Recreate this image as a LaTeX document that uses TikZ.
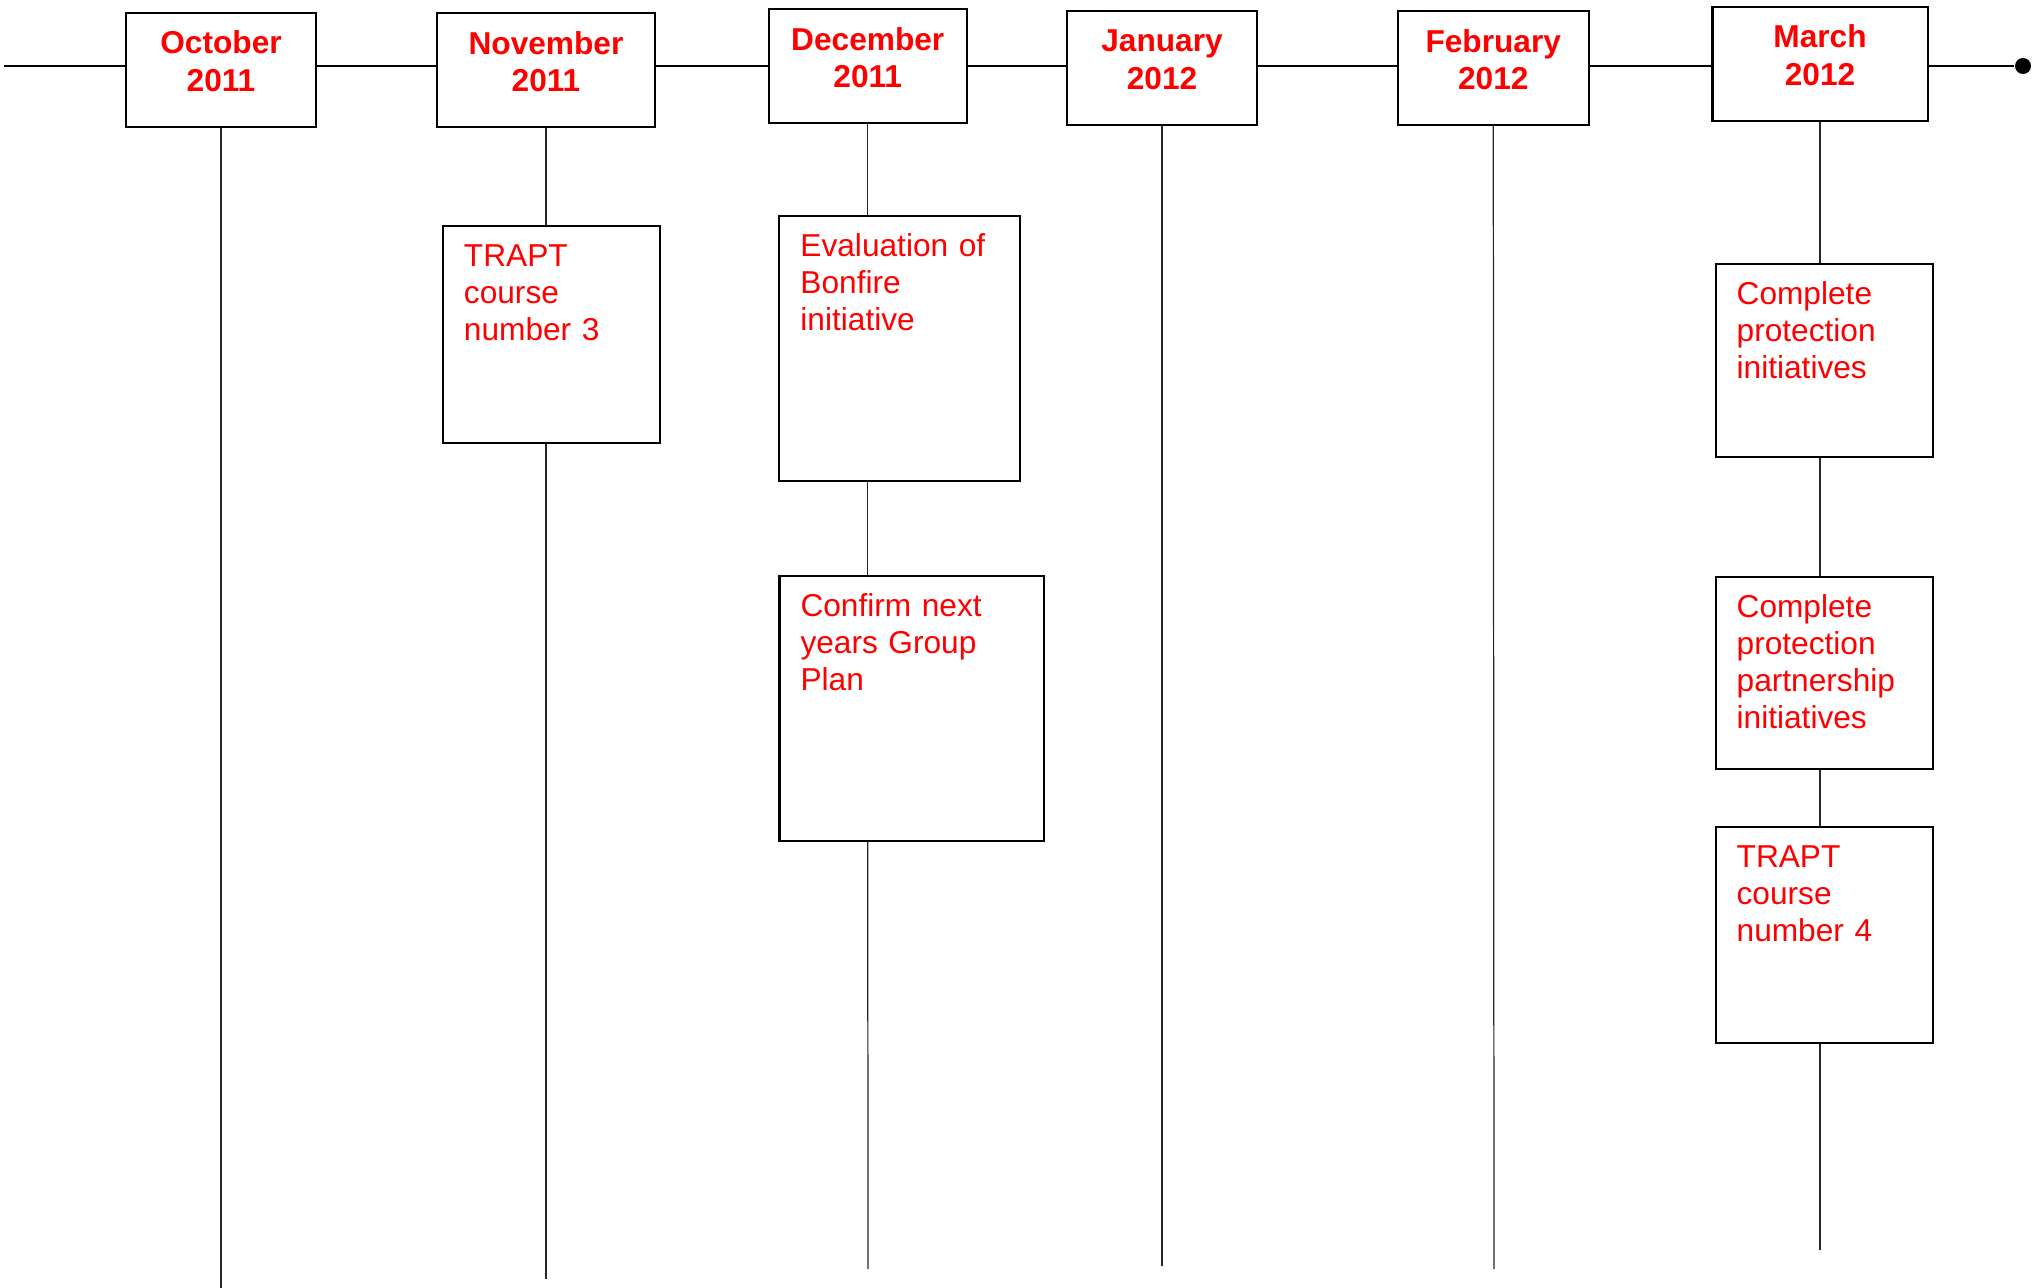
\documentclass[tikz,border=0pt]{standalone}
\usepackage{fontspec}
\setmainfont{Liberation Sans}
\usetikzlibrary{backgrounds}

\begin{document}
\begin{tikzpicture}[x=0.01cm, y=-0.01cm,
  month/.style={draw=black, line width=0.6pt, fill=white, text=red, font=\fontsize{9}{10.56}\selectfont\bfseries, align=center, inner sep=0pt, text height=0.412cm, text depth=0.728cm},
  task/.style={draw=black, line width=0.6pt, fill=white, text=red, font=\fontsize{9}{10.56}\selectfont, align=left, inner xsep=0.21cm, inner ysep=0pt, text height=0.402cm},
  stem/.style={draw=black!85, line width=0.35pt},
  timeline/.style={draw=black, line width=0.75pt},
  dot/.style={circle, fill=black, inner sep=0pt, minimum size=0.16cm}]
\useasboundingbox (0,0) rectangle (2042,1288);

% months
\node[month, text width=1.9cm] (oct) at (221,69.7) {October\\ 2011};
\node[month, text width=2.17cm] (nov) at (546,70.3) {November\\ 2011};
\node[month, text width=1.975cm] (dec) at (867.75,66.3) {December\\ 2011};
\node[month, text width=1.9cm] (jan) at (1162,67.7) {January\\ 2012};
\node[month, text width=1.905cm] (feb) at (1493.25,68) {February\\ 2012};
\node[month, text width=2.15cm] (mar) at (1820,63.7) {March\\ 2012};

% tasks
\node[task, text width=1.75cm, text depth=1.768cm] (trapt3) at (551.5,334.5) {TRAPT\\ course\\ number 3};
\node[task, text width=1.98cm, text depth=2.242cm] (bonfire) at (899.5,348.5) {Evaluation of\\ Bonfire\\ initiative};
\node[task, text width=2.22cm, text depth=2.242cm] (groupplan) at (911.6,708.5) {Confirm next\\ years Group\\ Plan};
\node[task, text width=1.75cm, text depth=1.522cm] (protect) at (1824.2,360.5) {Complete\\ protection\\ initiatives};
\node[task, text width=1.75cm, text depth=1.518cm] (partner) at (1824.2,673) {Complete\\ protection\\ partnership\\ initiatives};
\node[task, text width=1.75cm, text depth=1.758cm] (trapt4) at (1824.2,935) {TRAPT\\ course\\ number 4};

% timeline
\coordinate (start) at (4,66);
\node[dot] (stop) at (2023,66) {};
\begin{scope}[on background layer]
\draw[timeline] (start) -- (stop);
\end{scope}

% stems
\coordinate (octend) at (221,1288);
\coordinate (novend) at (546,1279);
\coordinate (decend) at (868,1269);
\coordinate (janend) at (1162,1266);
\coordinate (febend) at (1494,1269);
\coordinate (marend) at (1820,1250);

\draw[stem] (oct) -- (octend);
\draw[stem] (nov.south) -- (nov.south |- trapt3.north);
\draw[stem] (nov.south |- trapt3.south) -- (novend);
\draw[stem] (dec.south) -- (dec.south |- bonfire.north);
\draw[stem] (dec.south |- bonfire.south) -- (dec.south |- groupplan.north);
\draw[stem] (dec.south |- groupplan.south) -- (decend);
\draw[stem] (jan) -- (janend);
\draw[stem] (feb) -- (febend);
\draw[stem] (mar.south) -- (mar.south |- protect.north);
\draw[stem] (mar.south |- protect.south) -- (mar.south |- partner.north);
\draw[stem] (mar.south |- partner.south) -- (mar.south |- trapt4.north);
\draw[stem] (mar.south |- trapt4.south) -- (marend);

\end{tikzpicture}
\end{document}
